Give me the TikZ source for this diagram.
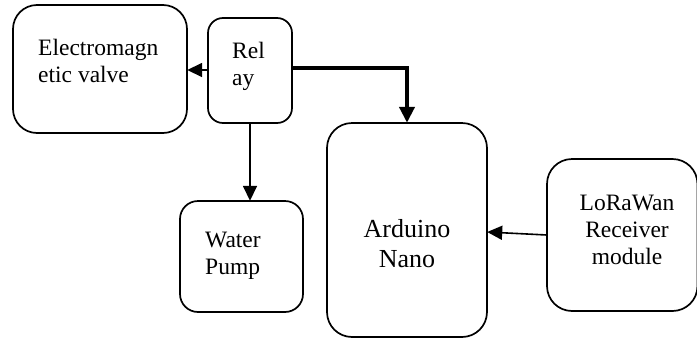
\documentclass[tikz,border=0pt]{standalone}
\usepackage{fontspec}
\setmainfont{Liberation Serif}
\usetikzlibrary{arrows.meta}
\tikzset{
  blk/.style={draw, line width=1.7pt, rounded corners=#1, inner sep=0pt},
  blk/.default=24pt,
  txt/.style={inner sep=0pt, font=\fontsize{23.5}{27.5}\selectfont},
  big/.style={inner sep=0pt, font=\fontsize{26}{30}\selectfont},
  arr/.style={line width=1.6pt, -{Triangle[length=15pt,width=14pt]}},
  thick arr/.style={line width=4pt, -{Triangle[length=16pt,width=15pt]}},
}
\begin{document}
\begin{tikzpicture}[x=1pt,y=-1pt]
\useasboundingbox (0,0) rectangle (697,338);
% boxes
\draw[blk=24pt] (13,5) rectangle (187,133);
\node[minimum width=174pt, minimum height=128pt] (valve) at (100,69) {};
\draw[blk=15pt] (208,18) rectangle (292,123);
\node[minimum width=84pt, minimum height=105pt] (relay) at (250,70.5) {};
\draw[blk=25pt] (327,123) rectangle (487,337);
\node[minimum width=160pt, minimum height=214pt] (ard) at (407,230) {};
\draw[blk=18pt] (180,201) rectangle (303,312);
\node[minimum width=123pt, minimum height=111pt] (pump) at (241.5,256.5) {};
\draw[blk=25pt] (547,159) rectangle (697.5,311);
\node[minimum width=150pt, minimum height=152pt] (lora) at (622,235) {};
% texts
\node[txt, anchor=base west] (t1) at (38,55) {Electromagn};
\node[txt, anchor=base west] (t2) at (38,82) {etic valve};
\node[txt, anchor=base west] (t3) at (232,58) {Rel};
\node[txt, anchor=base west] (t4) at (232,85) {ay};
\node[big, anchor=base] (t5) at (407,237) {Arduino};
\node[big, anchor=base] (t6) at (407,267) {Nano};
\node[txt, anchor=base] (t7) at (627,210) {LoRaWan};
\node[txt, anchor=base] (t8) at (627,237) {Receiver};
\node[txt, anchor=base] (t9) at (627,264) {module};
\node[txt, anchor=base west] (t10) at (205,247) {Water};
\node[txt, anchor=base west] (t11) at (205,274) {Pump};
% connectors
\draw[arr] (relay.west |- 0,70) -- (valve.east |- 0,70);
\draw[arr] (relay.south) -- (pump.north -| relay.south);
\draw[thick arr] (relay.east |- 0,68) -| (ard.north);
\draw[arr] (lora.west |- 0,235) -- (ard.east |- 0,232);
\end{tikzpicture}
\end{document}
